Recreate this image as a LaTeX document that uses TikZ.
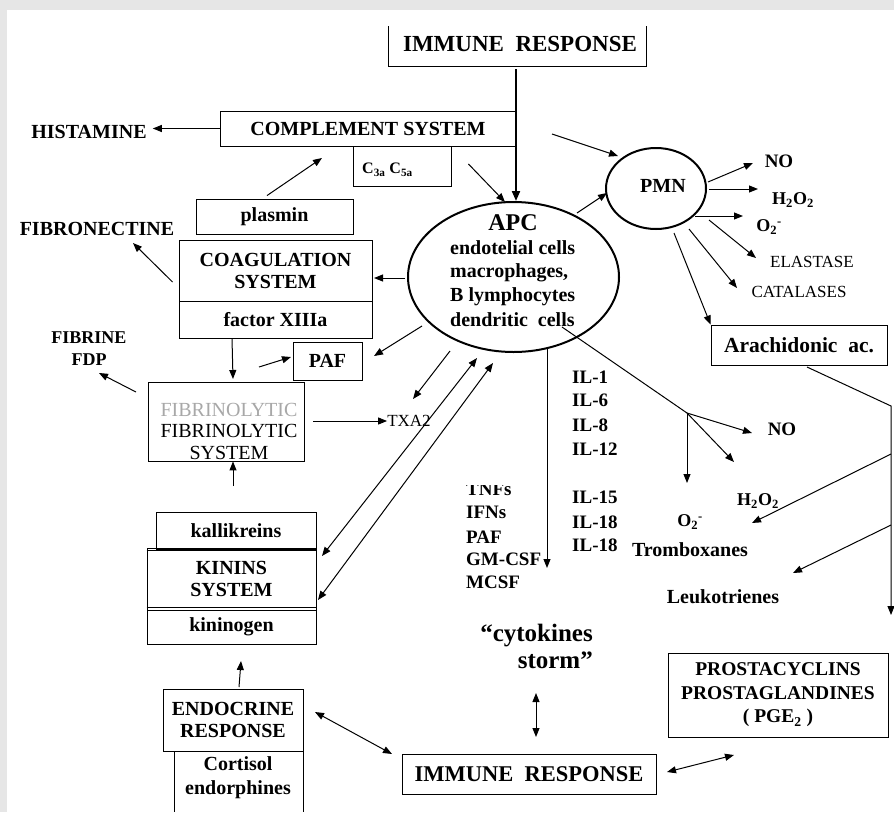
\documentclass[tikz,border=0pt]{standalone}
\usepackage{fontspec}
\setmainfont{Liberation Serif}
\usetikzlibrary{arrows.meta,calc,shapes.geometric}
\definecolor{bggray}{HTML}{E6E6E6}
\definecolor{ghost}{HTML}{A8A8A8}
\newcommand{\myfs}[2]{\fontsize{#1pt}{#2pt}\selectfont}
\begin{document}
\begin{tikzpicture}[x=1pt,y=-1pt,
  box/.style={draw, line width=0.9pt, inner sep=0pt, align=center, font=\bfseries\myfs{20}{22}},
  lbl/.style={inner sep=0pt, align=center, font=\bfseries\myfs{20}{22}},
  reg/.style={inner sep=0pt, align=center, font=\myfs{17}{20}},
  arr/.style={line width=1pt, -{Triangle[length=9pt,width=7pt]}},
  darr/.style={line width=1pt, {Triangle[length=9pt,width=7pt]}-{Triangle[length=9pt,width=7pt]}},
  oval/.style={draw, ellipse, line width=2pt, inner sep=0pt},
]
\fill[bggray] (0,0) rectangle (894,812);
\fill[white] (7,10) rectangle (894,812);
\useasboundingbox (0,0) rectangle (894,812);

% ---------- top immune response
\node[lbl, font=\bfseries\myfs{23}{26}] (immtop) at (520,43.5) {IMMUNE~~RESPONSE};
\draw[line width=0.9pt] (388,26) |- (646,66) -- (646,26);

% ---------- APC
\node[oval, minimum width=211pt, minimum height=150pt] (apc) at (513.5,277) {};
\node[lbl, font=\bfseries\myfs{24}{26}] (apct) at (513,223) {APC};
\node[lbl, anchor=west] (apc1) at (450,248) {endotelial cells};
\node[lbl, anchor=west] (apc2) at (450,273) {macrophages,};
\node[lbl, anchor=west] (apc3) at (450,297) {B lymphocytes};
\node[lbl, anchor=west] (apc4) at (450,320) {dendritic~~cells};
\draw[line width=2pt, -{Triangle[length=10pt,width=8pt]}] (516,69) -- (apc.north -| 516,0);

% ---------- complement
\node[box, minimum width=296pt, minimum height=35pt] (comp) at (368,128.5) {COMPLEMENT SYSTEM};
\node[box, minimum width=98pt, minimum height=40pt] (c35) at (402,166) {};
\node[lbl, anchor=west, font=\bfseries\myfs{16}{18}] (c35t) at (362,170) {C\textsubscript{3a} C\textsubscript{5a}};
\node[lbl] (hist) at (89,132) {HISTAMINE};
\draw[arr, shorten >=6pt] (comp.west) -- (comp.west -| hist.east);
\draw[arr] ($(c35.east)+(17,-2)$) -- (505,202);

% ---------- plasmin / coagulation
\node[box, minimum width=157pt, minimum height=35pt] (plasmin) at (274.5,216.5) {plasmin};
\draw[arr] ($(plasmin.north)+(-7.5,-3)$) -- (322,158);
\node[lbl] (fibro) at (97,229) {FIBRONECTINE};
\node[box, minimum width=193pt, minimum height=61pt] (coag) at (275.5,270.5) {COAGULATION\\SYSTEM};
\node[box, minimum width=193pt, minimum height=37pt] (factor) at (275.5,319.5) {factor XIIIa};
\draw[arr] ($(coag.west)+(-6,11.5)$) -- (133,243);
\draw[arr] (405,278) -- (374,278);

% ---------- PAF
\node[box, minimum width=69pt, minimum height=38pt] (paf) at (327.5,361) {PAF};
\draw[arr] (259,367) -- (291,357);
\draw[arr] (422,326) -- (374,356);

% ---------- fibrinolytic
\node[draw, line width=0.9pt, inner sep=0pt, minimum width=156pt, minimum height=79pt] (fibrin) at (226,421.5) {};
\node[inner sep=0pt, align=center, font=\myfs{20}{21.5}] (fibrint) at (229,431) {\textcolor{ghost}{FIBRINOLYTIC}\\FIBRINOLYTIC\\SYSTEM};
\draw[arr] (factor.south -| 232,0) -- (233,379);
\node[lbl, font=\bfseries\myfs{18}{22}] (fdp) at (89,349) {FIBRINE\\FDP};
\draw[arr] (136,392) -- (99,373);
\node[reg] (txa) at (409,421) {TXA2};
\draw[arr] (313,421) -- (txa.west);
\draw[arr] (233,486) -- (fibrin.south -| 233,0);
\draw[arr] (450,351) -- (413,399);
\draw[darr] (477,358) -- (322,556);
\draw[darr] (493,363) -- (318,600);

% ---------- kinins
\node[box, minimum width=160pt, minimum height=37pt] (kall) at (236,530.5) {kallikreins};
\node[box, minimum width=169pt, minimum height=62pt] (kinin) at (231.5,579) {KININS\\SYSTEM};
\draw[line width=0.9pt] ($(kinin.north west)+(0,3)$) -- ($(kinin.north east)+(0,3)$);
\draw[line width=0.9pt] ($(kinin.south west)+(0,-3)$) -- ($(kinin.south east)+(0,-3)$);
\node[box, minimum width=169pt, minimum height=34pt] (kgen) at (231.5,627) {kininogen};

% ---------- endocrine
\node[box, minimum width=140pt, minimum height=62pt] (endo) at (233,720) {ENDOCRINE\\RESPONSE};
\draw[line width=0.9pt] (174,751) -- (174,812);
\draw[line width=0.9pt] (303,751) -- (303,812);
\node[lbl, font=\bfseries\myfs{20}{24}] (cort) at (238,778) {Cortisol\\endorphines};
\draw[arr] (239,687) -- (241,661);

% ---------- bottom immune response
\node[box, minimum width=254pt, minimum height=40pt, font=\bfseries\myfs{22.5}{26}] (immbot) at (529,774) {IMMUNE~~RESPONSE};
\draw[darr] (315,712) -- (392,754);
\node[lbl, anchor=east, align=right, font=\bfseries\myfs{25}{27}] (storm) at (593,646) {``cytokines\\storm''};
\draw[darr] (536,693) -- (536,737);
\node[box, minimum width=220pt, minimum height=84pt, font=\bfseries\myfs{19.5}{23.5}] (prosta) at (778,695) {PROSTACYCLINS\\PROSTAGLANDINES\\( PGE\textsubscript{2} )};
\draw[darr] (667,772) -- (734,755);

% ---------- PMN
\node[oval, minimum width=100pt, minimum height=81pt] (pmn) at (656,188.5) {};
\node[lbl] (pmnt) at (663,186) {PMN};
\draw[arr] (577,213) -- (607,193);
\draw[arr] (552,134) -- (618,156);
\node[lbl, font=\bfseries\myfs{19}{22}] (no1) at (779,161) {NO};
\node[lbl, font=\bfseries\myfs{18}{22}] (h2o2a) at (793,200) {H\textsubscript{2}O\textsubscript{2}};
\node[lbl, font=\bfseries\myfs{18}{22}] (o2a) at (769,227) {O\textsubscript{2}\textsuperscript{-}};
\node[reg] (elast) at (812,262) {ELASTASE};
\node[reg] (catal) at (799,292) {CATALASES};
\draw[arr] (708,182) -- (753,163);
\draw[arr] (709,189) -- (758,189);
\draw[arr] (695,216) -- (743,216);
\draw[arr] (709,220) -- (756,258);
\draw[arr] (689,229) -- (737,288);

% ---------- arachidonic
\node[box, minimum width=176pt, minimum height=40pt, font=\bfseries\myfs{21.5}{24}] (arach) at (799,345) {Arachidonic~~ac.};
\draw[arr] (674,233) -- (arach.north west);
\coordinate (bend) at (891,406);
\draw[arr] (807,367) -- (bend) -- (891,615);
\draw[arr] (891,454) -- (752,523);
\draw[arr] (891,525) -- (793,573);

% ---------- cytokines
\coordinate (fork) at (687,413);
\draw[line width=1pt] (562,327) -- (fork);
\draw[arr] (fork) -- (752,433);
\draw[arr] (fork) -- (734,462);
\draw[arr] (fork) -- (687,483);
\node[lbl, font=\bfseries\myfs{19}{22}] (no2) at (782,429) {NO};
\node[lbl, font=\bfseries\myfs{18}{22}] (h2o2b) at (758,501) {H\textsubscript{2}O\textsubscript{2}};
\node[lbl, font=\bfseries\myfs{18}{22}] (o2b) at (690,522) {O\textsubscript{2}\textsuperscript{-}};
\node[lbl] (tromb) at (690,550) {Tromboxanes};
\node[lbl] (leuko) at (723,597) {Leukotrienes};

\draw[arr] (547,348) -- (547,568);
\begin{scope}
\clip (455,485) rectangle (540,505);
\node[lbl, anchor=west, font=\bfseries\myfs{19}{22}] (tnf) at (466,489) {TNFs};
\end{scope}
\node[lbl, anchor=west, font=\bfseries\myfs{19}{22}] (ifn) at (466,512) {IFNs};
\node[lbl, anchor=west, font=\bfseries\myfs{19}{22}] (paf2) at (466,537) {PAF};
\node[lbl, anchor=west, font=\bfseries\myfs{19}{22}] (gm) at (466,559) {GM-CSF};
\node[lbl, anchor=west, font=\bfseries\myfs{19}{22}] (mcsf) at (466,582) {MCSF};

\node[lbl, anchor=west, font=\bfseries\myfs{19}{22}] (il1) at (572,377) {IL-1};
\node[lbl, anchor=west, font=\bfseries\myfs{19}{22}] (il6) at (572,400) {IL-6};
\node[lbl, anchor=west, font=\bfseries\myfs{19}{22}] (il8) at (572,425) {IL-8};
\node[lbl, anchor=west, font=\bfseries\myfs{19}{22}] (il12) at (572,449) {IL-12};
\node[lbl, anchor=west, font=\bfseries\myfs{19}{22}] (il15) at (572,497) {IL-15};
\node[lbl, anchor=west, font=\bfseries\myfs{19}{22}] (il18a) at (572,522) {IL-18};
\node[lbl, anchor=west, font=\bfseries\myfs{19}{22}] (il18b) at (572,545) {IL-18};
\end{tikzpicture}
\end{document}
